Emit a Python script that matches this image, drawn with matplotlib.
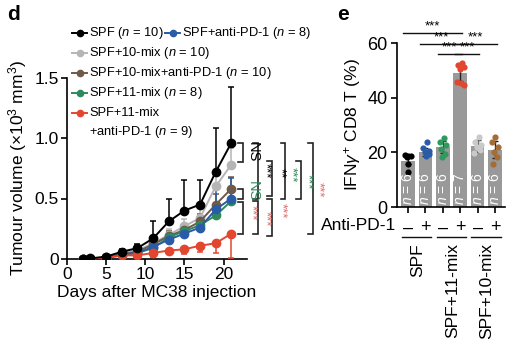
import matplotlib
matplotlib.use("Agg")
import matplotlib.pyplot as plt
from matplotlib.lines import Line2D

plt.rcParams['font.family'] = ['Liberation Sans', 'DejaVu Sans']
plt.rcParams['mathtext.fontset'] = 'custom'
plt.rcParams['mathtext.rm'] = 'Liberation Sans'
plt.rcParams['mathtext.it'] = 'Liberation Sans:italic'
plt.rcParams['mathtext.bf'] = 'Liberation Sans:bold'

# ---------------- panel d: tumour growth ----------------
days = [2, 3, 5, 7, 9, 11, 13, 15, 17, 19, 21]

spf = [0.0, 0.005, 0.02, 0.06, 0.09, 0.17, 0.31, 0.40, 0.45, 0.72, 0.96]
spf_err = [0.0, 0.0, 0.01, 0.02, 0.03, 0.14, 0.19, 0.25, 0.20, 0.36, 0.46]
spf_pd1 = [0.0, 0.0, 0.01, 0.04, 0.05, 0.10, 0.16, 0.21, 0.26, 0.41, 0.50]
spf_pd1_err = [0.0, 0.0, 0.0, 0.01, 0.01, 0.03, 0.04, 0.05, 0.07, 0.20, 0.17]
mix10 = [0.0, 0.0, 0.015, 0.05, 0.07, 0.13, 0.20, 0.27, 0.34, 0.60, 0.78]
mix10_err = [0.0, 0.0, 0.0, 0.01, 0.02, 0.04, 0.05, 0.06, 0.08, 0.13, 0.14]
mix10_pd1 = [0.0, 0.0, 0.015, 0.04, 0.06, 0.12, 0.19, 0.24, 0.31, 0.45, 0.58]
mix10_pd1_err = [0.0, 0.0, 0.0, 0.01, 0.02, 0.03, 0.04, 0.05, 0.06, 0.09, 0.10]
mix11 = [0.0, 0.0, 0.01, 0.03, 0.05, 0.09, 0.18, 0.23, 0.28, 0.36, 0.48]
mix11_err = [0.0, 0.0, 0.0, 0.01, 0.01, 0.02, 0.03, 0.04, 0.05, 0.06, 0.08]
mix11_pd1 = [0.0, 0.0, 0.01, 0.03, 0.03, 0.05, 0.07, 0.08, 0.11, 0.13, 0.21]
mix11_pd1_err = [0.0, 0.0, 0.0, 0.01, 0.01, 0.03, 0.03, 0.04, 0.05, 0.08, 0.20]

groups_d = [
    # label lines, values, errors, error direction, colour
    (["SPF ($n$ = 10)"], spf, spf_err, "up", "#000000"),
    (["SPF+anti-PD-1 ($n$ = 8)"], spf_pd1, spf_pd1_err, "up", "#2a5ba6"),
    (["SPF+10-mix ($n$ = 10)"], mix10, mix10_err, "up", "#b5b5b5"),
    (["SPF+10-mix+anti-PD-1 ($n$ = 10)"], mix10_pd1, mix10_pd1_err, "up", "#6e5a48"),
    (["SPF+11-mix ($n$ = 8)"], mix11, mix11_err, "up", "#2e8a5c"),
    (["SPF+11-mix", "+anti-PD-1 ($n$ = 9)"], mix11_pd1, mix11_pd1_err, "down", "#e2462f"),
]
draw_order = [2, 3, 4, 1, 0, 5]

# significance brackets at day 21: (x position in days, y top, y bottom, text, colour, text x, text y)
brackets = [
    (22.5, 0.96, 0.80, "NS", "#000000", 23.7, 0.88),
    (22.5, 0.58, 0.50, "NS", "#2e8a5c", 23.7, 0.56),
    (22.5, 0.47, 0.21, "***", "#e06b6b", 23.5, 0.38),
    (24.4, 0.96, 0.50, "***", "#000000", 25.4, 0.73),
    (24.4, 0.48, 0.21, "***", "#e06b6b", 25.4, 0.33),
    (26.2, 0.81, 0.52, "**", "#000000", 27.2, 0.71),
    (26.2, 0.50, 0.19, "***", "#e06b6b", 27.4, 0.40),
    (27.9, 0.96, 0.50, "***", "#2e8a5c", 28.7, 0.70),
    (29.9, 0.81, 0.50, "***", "#2e8a5c", 30.7, 0.64),
    (31.4, 0.96, 0.21, "***", "#e06b6b", 32.1, 0.57),
]

# ---------------- panel e: IFN-gamma+ CD8 T cells ----------------
bar_heights = [17.0, 20.2, 22.0, 49.2, 22.3, 21.0]
bar_err = [1.2, 1.5, 2.3, 3.2, 2.2, 3.2]
bar_n = [6, 6, 6, 7, 6, 6]
bar_colors = ["#000000", "#2a5ba6", "#2e9a5c", "#e2462f", "#c9c9c9", "#a56c36"]
pd1_marks = ["\u2013", "+", "\u2013", "+", "\u2013", "+"]
group_names = ["SPF", "SPF+11-mix", "SPF+10-mix"]
dots = [
    [19.0, 18.8, 18.5, 18.2, 15.8, 12.8],
    [23.8, 21.6, 20.6, 20.1, 19.4, 18.6],
    [25.4, 23.9, 22.8, 21.3, 19.4, 18.4],
    [52.6, 52.0, 51.3, 50.6, 45.9, 45.2, 44.5],
    [25.7, 23.9, 22.6, 22.0, 20.8, 19.8],
    [25.5, 23.9, 22.0, 20.2, 18.3, 15.9],
]
dot_offsets = [
    [-0.18, 0.02, 0.2, -0.05, 0.0, 0.0],
    [0.1, -0.15, 0.18, -0.05, 0.22, 0.05],
    [0.05, -0.18, 0.2, -0.1, 0.15, -0.05],
    [0.1, -0.12, 0.2, 0.0, -0.18, 0.05, 0.2],
    [0.05, -0.15, 0.18, -0.05, 0.15, -0.2],
    [0.0, -0.15, 0.18, -0.05, 0.12, -0.1],
]
# comparisons: (bar a, bar b, line level, label)
comparisons = [
    (0, 3, 63.5, "***"),
    (1, 3, 59.5, "***"),
    (2, 3, 56.0, "***"),
    (3, 5, 59.5, "***"),
    (3, 4, 56.0, "***"),
]

W, H = 511, 342
fig = plt.figure(figsize=(W / 100, H / 100), dpi=100)


def fx(px):
    return px / W


def fy(py):
    return 1 - py / H


# ---------- panel d ----------
ax = fig.add_axes([fx(67), fy(259), 180 / W, 181.5 / H])
for i in draw_order:
    lines, vals, errs, direction, col = groups_d[i]
    if direction == "up":
        yerr = [[0] * len(errs), errs]
    else:
        yerr = [errs, [0] * len(errs)]
    ax.errorbar(days, vals, yerr=yerr, color=col, lw=1.4, marker="o", ms=6,
                elinewidth=1.1, capsize=2.2, capthick=1.1, zorder=3 if i != 0 else 4)

ax.set_xlim(0, 23)
ax.set_ylim(0, 1.5)
ax.set_xticks([0, 5, 10, 15, 20])
ax.set_yticks([0, 0.5, 1.0, 1.5])
ax.set_yticklabels(["0", "0.5", "1.0", "1.5"])
for s in ["top", "right"]:
    ax.spines[s].set_visible(False)
for s in ["left", "bottom"]:
    ax.spines[s].set_linewidth(1.2)
ax.tick_params(direction="out", length=4, width=1.2, labelsize=12.5, pad=2)
ax.set_xlabel("Days after MC38 injection", fontsize=12.5, labelpad=2)
ax.set_ylabel("Tumour volume (\u00d710$^{3}$ mm$^{3}$)", fontsize=12.5, labelpad=4)

tick_len = 0.6
for xb, yt, yb, txt, col, tx, ty in brackets:
    ax.plot([xb - tick_len, xb, xb, xb - tick_len], [yt, yt, yb, yb], color="#222222",
            lw=1.2, clip_on=False, solid_joinstyle="miter")
    ax.text(tx, ty, txt, color=col, rotation=270, ha="center", va="center",
            fontsize=9.5 if txt != "NS" else 10.5, clip_on=False)

# legend
legend_pos = [(72, 33), (165, 33), (72, 53), (72, 73), (72, 93), (72, 113)]
for (lines, vals, errs, direction, col), (lx, ly) in zip(groups_d, legend_pos):
    fig.add_artist(Line2D([fx(lx), fx(lx + 15)], [fy(ly), fy(ly)], color=col, lw=1.4))
    fig.add_artist(Line2D([fx(lx + 7.5)], [fy(ly)], color=col, marker="o", ms=4.5, lw=0))
    for k, t in enumerate(lines):
        fig.text(fx(lx + 17), fy(ly + 19 * k), t, fontsize=9.3, ha="left", va="center")

fig.text(fx(13), fy(15), "d", fontsize=15, fontweight="bold", ha="center", va="center")

# ---------- panel e ----------
bx = fig.add_axes([fx(397), fy(207), 108 / W, 164 / H])
xpos = list(range(len(bar_heights)))
bx.bar(xpos, bar_heights, width=0.78, color="#999999", zorder=1)
bx.errorbar(xpos, bar_heights, yerr=bar_err, fmt="none", ecolor="#222222",
            elinewidth=1.0, capsize=2, capthick=1.0, zorder=2)
for i, (vals, offs) in enumerate(zip(dots, dot_offsets)):
    bx.scatter([i + o for o in offs], vals, s=20, color=bar_colors[i], zorder=3,
               linewidths=0)
for i, n in enumerate(bar_n):
    bx.text(i, 0.8, "$n$ = %d" % n, rotation=90, color="white", ha="center",
            va="bottom", fontsize=10, zorder=4)

bx.set_xlim(-0.63, 5.57)
bx.set_ylim(0, 60)
bx.set_yticks([0, 20, 40, 60])
bx.set_xticks(xpos)
bx.set_xticklabels(pd1_marks)
for s in ["top", "right"]:
    bx.spines[s].set_visible(False)
for s in ["left", "bottom"]:
    bx.spines[s].set_linewidth(1.2)
bx.spines["left"].set_bounds(0, 60)
bx.tick_params(direction="out", length=4, width=1.2, labelsize=13, pad=3)
bx.tick_params(axis="x", labelsize=13, pad=5)
bx.set_ylabel("IFN$\\gamma^{+}$ CD8 T (%)", fontsize=12.5, labelpad=3)

for a, b, lvl, txt in comparisons:
    bx.plot([a - 0.3, b + 0.1], [lvl, lvl], color="#111111", lw=1.0, clip_on=False)
    bx.text((a + b) / 2 - 0.1, lvl + 0.3, txt, ha="center", va="bottom", fontsize=9.5,
            clip_on=False)

fig.text(fx(396), fy(225), "Anti-PD-1", fontsize=12.5, ha="right", va="center")
group_px = [(402, 431), (437, 466), (471, 501)]
for (g0, g1), name in zip(group_px, group_names):
    fig.add_artist(Line2D([fx(g0), fx(g1)], [fy(237), fy(237)], color="#111111", lw=1.0))
    fig.text(fx((g0 + g1) / 2 + 1), fy(243), name, rotation=90, fontsize=12.5,
             ha="center", va="top")

fig.text(fx(343), fy(15), "e", fontsize=15, fontweight="bold", ha="center", va="center")

fig.savefig("out.png", dpi=100)
